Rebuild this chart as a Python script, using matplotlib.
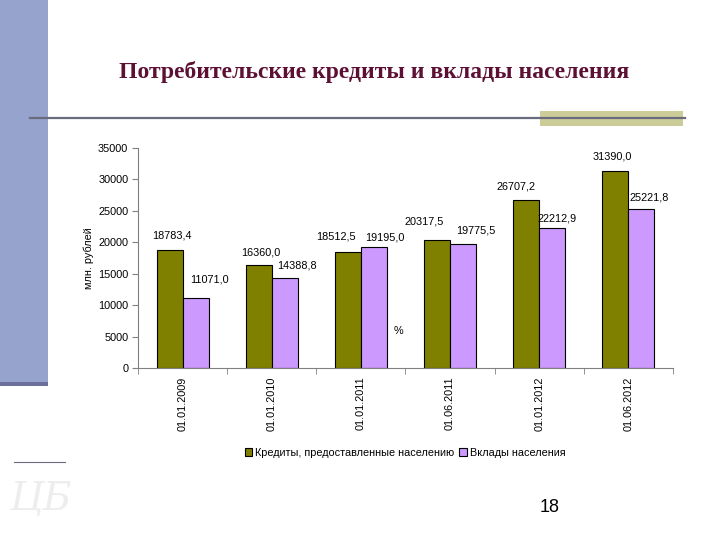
import matplotlib
matplotlib.use("Agg")
import matplotlib.pyplot as plt
from matplotlib.patches import Rectangle
import numpy as np

categories = ["01.01.2009", "01.01.2010", "01.01.2011", "01.06.2011", "01.01.2012", "01.06.2012"]
credits = [18783.4, 16360.0, 18512.5, 20317.5, 26707.2, 31390.0]
deposits = [11071.0, 14388.8, 19195.0, 19775.5, 22212.9, 25221.8]
credit_labels = ["18783,4", "16360,0", "18512,5", "20317,5", "26707,2", "31390,0"]
deposit_labels = ["11071,0", "14388,8", "19195,0", "19775,5", "22212,9", "25221,8"]
series_names = ["Кредиты, предоставленные населению", "Вклады населения"]

# label offsets in pixels (dx, dy) relative to bar top centre
credit_off = [(2, 14), (2, 13), (-12, 15), (-13, 19), (-10, 14), (-3, 14)]
deposit_off = [(14, 19), (12, 12), (11, 10), (13, 13), (5, 10), (8, 12)]

plt.rcParams['font.family'] = ['Liberation Sans', 'DejaVu Sans']

W, H = 720, 540
fig = plt.figure(figsize=(7.2, 5.4), dpi=100)
fig.patch.set_facecolor("white")

# slide decorations
fig.add_artist(Rectangle((0, 1 - 382 / H), 48 / W, 382 / H, transform=fig.transFigure,
                         facecolor="#96A3CD", edgecolor="none"))
fig.add_artist(Rectangle((0, 1 - 386 / H), 48 / W, 4 / H, transform=fig.transFigure,
                         facecolor="#6B6F99", edgecolor="none"))
fig.add_artist(Rectangle((540 / W, 1 - 126 / H), 143 / W, 15 / H, transform=fig.transFigure,
                         facecolor="#CCCC99", edgecolor="none"))
fig.add_artist(plt.Line2D([30 / W, 685 / W], [1 - 117.5 / H] * 2, transform=fig.transFigure,
                          color="#6B6B80", lw=1.6))
fig.add_artist(plt.Line2D([14 / W, 65 / W], [1 - 462 / H] * 2, transform=fig.transFigure,
                          color="#6B6B80", lw=0.8))
fig.text(40 / W, 1 - 500 / H, "ЦБ", family="DejaVu Serif", style="italic", fontsize=28,
         color="#EDEDED", ha="center", va="center")

fig.text(374 / W, 1 - 72 / H, "Потребительские кредиты и вклады населения",
         family="Liberation Serif", fontweight="bold", fontsize=17, color="#5C1033",
         ha="center", va="center")

ax = fig.add_axes([138 / W, 1 - 368 / H, 535 / W, 220 / H])
x = np.arange(len(categories))
bw = 0.292
b1 = ax.bar(x - bw / 2, credits, bw, color="#808000", edgecolor="black", linewidth=0.8,
            label=series_names[0])
b2 = ax.bar(x + bw / 2, deposits, bw, color="#CC99FF", edgecolor="black", linewidth=0.8,
            label=series_names[1])

k = 0.72
for i in range(len(categories)):
    ax.annotate(credit_labels[i], (x[i] - bw / 2, credits[i]),
                xytext=(credit_off[i][0] * k, credit_off[i][1] * k), textcoords="offset points",
                ha="center", va="center", fontsize=7.8)
    ax.annotate(deposit_labels[i], (x[i] + bw / 2, deposits[i]),
                xytext=(deposit_off[i][0] * k, deposit_off[i][1] * k), textcoords="offset points",
                ha="center", va="center", fontsize=7.8)

ax.text(398 / W, 1 - 331 / H, "%", transform=fig.transFigure, fontsize=7.8,
        ha="center", va="center")

ax.set_xlim(-0.5, len(categories) - 0.5)
ax.set_ylim(0, 35000)
ax.set_yticks(np.arange(0, 35001, 5000))
ax.tick_params(axis="y", labelsize=7.8, length=4, color="#808080", pad=3)
ax.set_xticks(x)
ax.set_xticklabels(categories, rotation=90, fontsize=7.8)
ax.tick_params(axis="x", which="major", length=0, pad=6)
ax.set_xticks(np.arange(-0.5, len(categories), 1), minor=True)
ax.tick_params(axis="x", which="minor", length=4, color="#808080")
for s in ["top", "right"]:
    ax.spines[s].set_visible(False)
for s in ["left", "bottom"]:
    ax.spines[s].set_color("#808080")
    ax.spines[s].set_linewidth(0.8)
ax.set_ylabel("млн. рублей", fontsize=7.8, labelpad=3)

fig.legend(handles=[b1, b2], loc="center", bbox_to_anchor=(405 / W, 1 - 453 / H),
           ncol=2, frameon=False, fontsize=7.8, handlelength=0.7, handleheight=0.7,
           handletextpad=0.3, columnspacing=0.4)

fig.text(550 / W, 1 - 508 / H, "18", fontsize=13, ha="center", va="center")

fig.savefig("out.png", dpi=100)
